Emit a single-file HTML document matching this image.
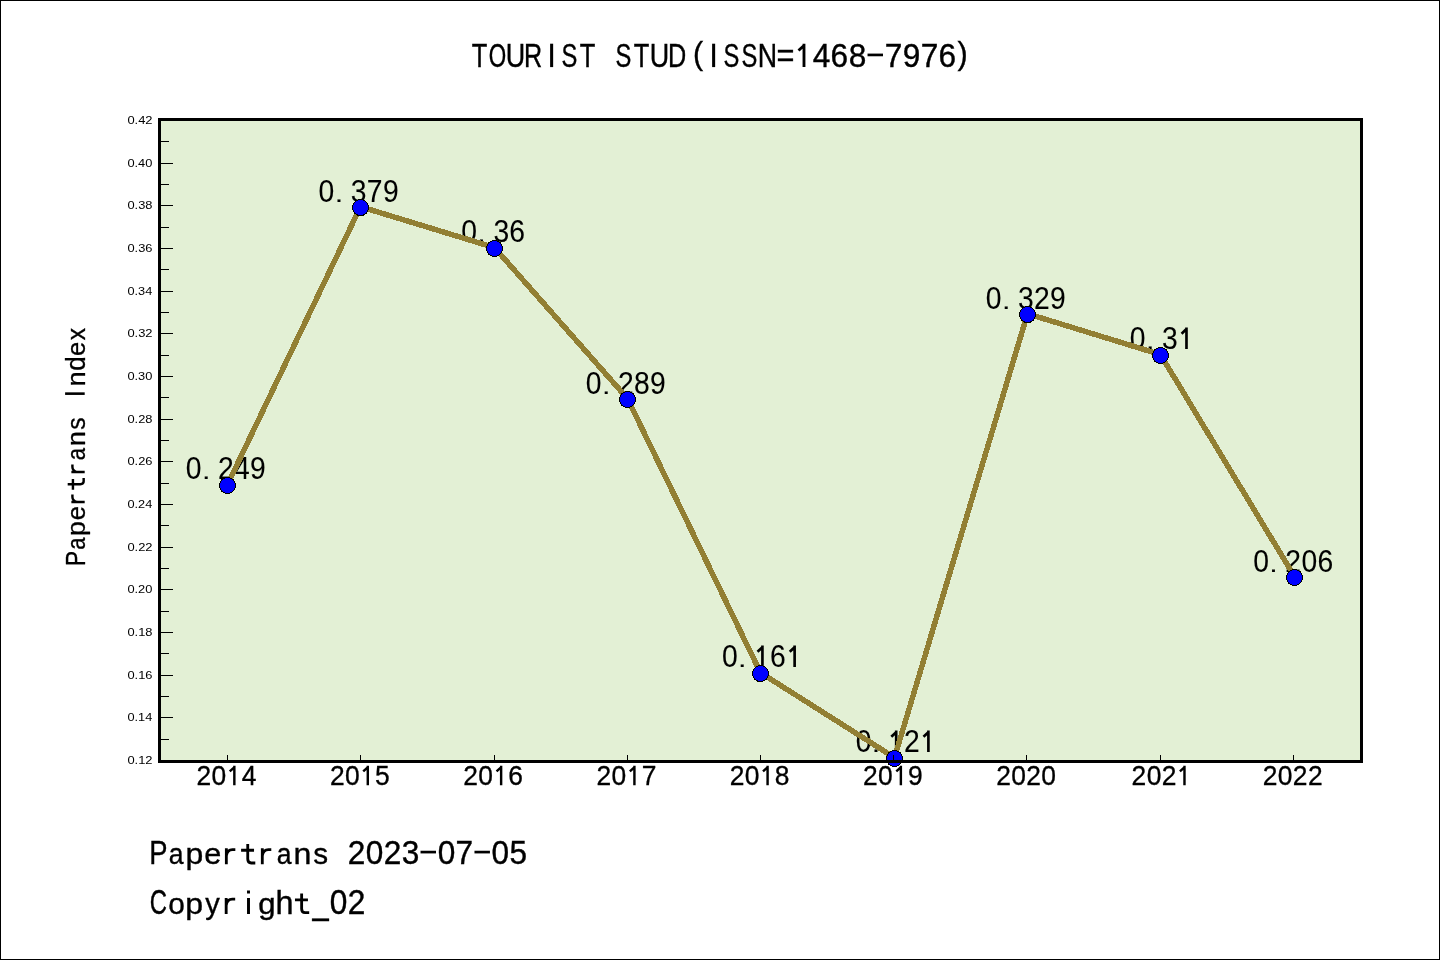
<!DOCTYPE html>
<html><head><meta charset="utf-8"><title>TOURIST STUD</title>
<style>
html,body{margin:0;padding:0;background:#fff;}
body{width:1440px;height:960px;overflow:hidden;}
svg{display:block;will-change:transform;}
text{fill:#000;font-family:"Liberation Sans",sans-serif;font-kerning:none;}
</style></head><body>
<svg width="1440" height="960" viewBox="0 0 1440 960">
<rect x="0" y="0" width="1440" height="960" fill="#fff"/>
<rect x="0.5" y="0.5" width="1439" height="959" fill="none" stroke="#000" stroke-width="1"/>
<rect x="159.5" y="119.5" width="1202.0" height="642.0" fill="#E3F0D5"/>
<text font-size="100" stroke="#000" stroke-width="0.3" transform="matrix(0.28291 0 0 0.31396 185.70 479.20)">0</text>
<text font-size="100" stroke="#000" stroke-width="0.3" transform="matrix(0.30436 0 0 0.21209 201.89 479.20)">.</text>
<text font-size="100" stroke="#000" stroke-width="0.3" transform="matrix(0.28291 0 0 0.31396 217.90 479.20)">2</text>
<text font-size="100" stroke="#000" stroke-width="0.3" transform="matrix(0.28291 0 0 0.31396 234.09 479.20)">4</text>
<text font-size="100" stroke="#000" stroke-width="0.3" transform="matrix(0.28291 0 0 0.31396 250.10 479.20)">9</text>
<text font-size="100" stroke="#000" stroke-width="0.3" transform="matrix(0.28291 0 0 0.31396 318.50 201.60)">0</text>
<text font-size="100" stroke="#000" stroke-width="0.3" transform="matrix(0.30436 0 0 0.21209 334.69 201.60)">.</text>
<text font-size="100" stroke="#000" stroke-width="0.3" transform="matrix(0.28291 0 0 0.31396 350.78 201.60)">3</text>
<text font-size="100" stroke="#000" stroke-width="0.3" transform="matrix(0.28291 0 0 0.31396 366.78 201.60)">7</text>
<text font-size="100" stroke="#000" stroke-width="0.3" transform="matrix(0.28291 0 0 0.31396 382.90 201.60)">9</text>
<text font-size="100" stroke="#000" stroke-width="0.3" transform="matrix(0.28291 0 0 0.31396 461.15 242.20)">0</text>
<text font-size="100" stroke="#000" stroke-width="0.3" transform="matrix(0.30436 0 0 0.21209 477.35 242.20)">.</text>
<text font-size="100" stroke="#000" stroke-width="0.3" transform="matrix(0.28291 0 0 0.31396 493.43 242.20)">3</text>
<text font-size="100" stroke="#000" stroke-width="0.3" transform="matrix(0.28291 0 0 0.31396 509.35 242.20)">6</text>
<text font-size="100" stroke="#000" stroke-width="0.3" transform="matrix(0.28291 0 0 0.31396 585.70 393.70)">0</text>
<text font-size="100" stroke="#000" stroke-width="0.3" transform="matrix(0.30436 0 0 0.21209 601.89 393.70)">.</text>
<text font-size="100" stroke="#000" stroke-width="0.3" transform="matrix(0.28291 0 0 0.31396 617.90 393.70)">2</text>
<text font-size="100" stroke="#000" stroke-width="0.3" transform="matrix(0.28291 0 0 0.31396 634.00 393.70)">8</text>
<text font-size="100" stroke="#000" stroke-width="0.3" transform="matrix(0.28291 0 0 0.31396 650.10 393.70)">9</text>
<text font-size="100" stroke="#000" stroke-width="0.3" transform="matrix(0.28291 0 0 0.31396 721.88 667.10)">0</text>
<text font-size="100" stroke="#000" stroke-width="0.3" transform="matrix(0.30436 0 0 0.21209 738.08 667.10)">.</text>
<path d="M762.43 667.10L762.43 645.50M762.91 646.69L757.52 651.76" fill="none" stroke="#000" stroke-width="2.66"/>
<text font-size="100" stroke="#000" stroke-width="0.3" transform="matrix(0.28291 0 0 0.31396 770.08 667.10)">6</text>
<path d="M794.63 667.10L794.63 645.50M795.11 646.69L789.72 651.76" fill="none" stroke="#000" stroke-width="2.66"/>
<text font-size="100" stroke="#000" stroke-width="0.3" transform="matrix(0.28291 0 0 0.31396 855.65 752.10)">0</text>
<text font-size="100" stroke="#000" stroke-width="0.3" transform="matrix(0.30436 0 0 0.21209 871.85 752.10)">.</text>
<path d="M896.20 752.10L896.20 730.50M896.69 731.69L891.29 736.76" fill="none" stroke="#000" stroke-width="2.66"/>
<text font-size="100" stroke="#000" stroke-width="0.3" transform="matrix(0.28291 0 0 0.31396 903.95 752.10)">2</text>
<path d="M928.40 752.10L928.40 730.50M928.89 731.69L923.49 736.76" fill="none" stroke="#000" stroke-width="2.66"/>
<text font-size="100" stroke="#000" stroke-width="0.3" transform="matrix(0.28291 0 0 0.31396 985.70 308.70)">0</text>
<text font-size="100" stroke="#000" stroke-width="0.3" transform="matrix(0.30436 0 0 0.21209 1001.89 308.70)">.</text>
<text font-size="100" stroke="#000" stroke-width="0.3" transform="matrix(0.28291 0 0 0.31396 1017.98 308.70)">3</text>
<text font-size="100" stroke="#000" stroke-width="0.3" transform="matrix(0.28291 0 0 0.31396 1034.00 308.70)">2</text>
<text font-size="100" stroke="#000" stroke-width="0.3" transform="matrix(0.28291 0 0 0.31396 1050.10 308.70)">9</text>
<text font-size="100" stroke="#000" stroke-width="0.3" transform="matrix(0.28291 0 0 0.31396 1129.83 349.00)">0</text>
<text font-size="100" stroke="#000" stroke-width="0.3" transform="matrix(0.30436 0 0 0.21209 1146.03 349.00)">.</text>
<text font-size="100" stroke="#000" stroke-width="0.3" transform="matrix(0.28291 0 0 0.31396 1162.11 349.00)">3</text>
<path d="M1186.48 349.00L1186.48 327.40M1186.96 328.59L1181.57 333.66" fill="none" stroke="#000" stroke-width="2.66"/>
<text font-size="100" stroke="#000" stroke-width="0.3" transform="matrix(0.28291 0 0 0.31396 1253.15 571.50)">0</text>
<text font-size="100" stroke="#000" stroke-width="0.3" transform="matrix(0.30436 0 0 0.21209 1269.35 571.50)">.</text>
<text font-size="100" stroke="#000" stroke-width="0.3" transform="matrix(0.28291 0 0 0.31396 1285.35 571.50)">2</text>
<text font-size="100" stroke="#000" stroke-width="0.3" transform="matrix(0.28291 0 0 0.31396 1301.45 571.50)">0</text>
<text font-size="100" stroke="#000" stroke-width="0.3" transform="matrix(0.28291 0 0 0.31396 1317.45 571.50)">6</text>
<polyline points="227.50,484.60 360.50,206.70 494.50,247.60 627.50,398.60 760.50,672.70 894.50,757.60 1027.50,313.70 1160.50,354.60 1294.50,576.60" fill="none" stroke="#927F34" stroke-width="5.5" stroke-linejoin="round" stroke-linecap="square" shape-rendering="crispEdges"/>
<circle cx="227.50" cy="485.50" r="8" fill="#0000FF" stroke="#000" stroke-width="1" shape-rendering="crispEdges"/>
<circle cx="360.50" cy="207.60" r="8" fill="#0000FF" stroke="#000" stroke-width="1" shape-rendering="crispEdges"/>
<circle cx="494.50" cy="248.50" r="8" fill="#0000FF" stroke="#000" stroke-width="1" shape-rendering="crispEdges"/>
<circle cx="627.50" cy="399.50" r="8" fill="#0000FF" stroke="#000" stroke-width="1" shape-rendering="crispEdges"/>
<circle cx="760.50" cy="673.60" r="8" fill="#0000FF" stroke="#000" stroke-width="1" shape-rendering="crispEdges"/>
<circle cx="894.50" cy="758.50" r="8" fill="#0000FF" stroke="#000" stroke-width="1" shape-rendering="crispEdges"/>
<circle cx="1027.50" cy="314.60" r="8" fill="#0000FF" stroke="#000" stroke-width="1" shape-rendering="crispEdges"/>
<circle cx="1160.50" cy="355.50" r="8" fill="#0000FF" stroke="#000" stroke-width="1" shape-rendering="crispEdges"/>
<circle cx="1294.50" cy="577.50" r="8" fill="#0000FF" stroke="#000" stroke-width="1" shape-rendering="crispEdges"/>
<rect x="161" y="739" width="8" height="1" fill="#000"/>
<rect x="161" y="717" width="12" height="1" fill="#000"/>
<rect x="161" y="696" width="8" height="1" fill="#000"/>
<rect x="161" y="675" width="12" height="1" fill="#000"/>
<rect x="161" y="653" width="8" height="1" fill="#000"/>
<rect x="161" y="632" width="12" height="1" fill="#000"/>
<rect x="161" y="611" width="8" height="1" fill="#000"/>
<rect x="161" y="589" width="12" height="1" fill="#000"/>
<rect x="161" y="568" width="8" height="1" fill="#000"/>
<rect x="161" y="547" width="12" height="1" fill="#000"/>
<rect x="161" y="525" width="8" height="1" fill="#000"/>
<rect x="161" y="504" width="12" height="1" fill="#000"/>
<rect x="161" y="483" width="8" height="1" fill="#000"/>
<rect x="161" y="461" width="12" height="1" fill="#000"/>
<rect x="161" y="440" width="8" height="1" fill="#000"/>
<rect x="161" y="419" width="12" height="1" fill="#000"/>
<rect x="161" y="397" width="8" height="1" fill="#000"/>
<rect x="161" y="376" width="12" height="1" fill="#000"/>
<rect x="161" y="355" width="8" height="1" fill="#000"/>
<rect x="161" y="333" width="12" height="1" fill="#000"/>
<rect x="161" y="312" width="8" height="1" fill="#000"/>
<rect x="161" y="291" width="12" height="1" fill="#000"/>
<rect x="161" y="269" width="8" height="1" fill="#000"/>
<rect x="161" y="248" width="12" height="1" fill="#000"/>
<rect x="161" y="227" width="8" height="1" fill="#000"/>
<rect x="161" y="205" width="12" height="1" fill="#000"/>
<rect x="161" y="184" width="8" height="1" fill="#000"/>
<rect x="161" y="163" width="12" height="1" fill="#000"/>
<rect x="161" y="141" width="8" height="1" fill="#000"/>
<rect x="227" y="755" width="1" height="5" fill="#000"/>
<rect x="360" y="755" width="1" height="5" fill="#000"/>
<rect x="494" y="755" width="1" height="5" fill="#000"/>
<rect x="627" y="755" width="1" height="5" fill="#000"/>
<rect x="760" y="755" width="1" height="5" fill="#000"/>
<rect x="893" y="755" width="1" height="5" fill="#000"/>
<rect x="1026" y="755" width="1" height="5" fill="#000"/>
<rect x="1160" y="755" width="1" height="5" fill="#000"/>
<rect x="1293" y="755" width="1" height="5" fill="#000"/>
<rect x="159.5" y="119.5" width="1202.0" height="642.0" fill="none" stroke="#000" stroke-width="3"/>
<text font-size="50" transform="matrix(0.25849 0 0 0.23547 127.40 124.05)">0.42</text>
<text font-size="50" transform="matrix(0.25694 0 0 0.23547 127.40 166.71)">0.40</text>
<text font-size="50" transform="matrix(0.25754 0 0 0.23547 127.40 209.36)">0.38</text>
<text font-size="50" transform="matrix(0.25761 0 0 0.23547 127.40 252.02)">0.36</text>
<text font-size="50" transform="matrix(0.25560 0 0 0.23547 127.40 294.68)">0.34</text>
<text font-size="50" transform="matrix(0.25849 0 0 0.23547 127.40 337.33)">0.32</text>
<text font-size="50" transform="matrix(0.25694 0 0 0.23547 127.40 379.99)">0.30</text>
<text font-size="50" transform="matrix(0.25754 0 0 0.23547 127.40 422.65)">0.28</text>
<text font-size="50" transform="matrix(0.25761 0 0 0.23547 127.40 465.30)">0.26</text>
<text font-size="50" transform="matrix(0.25560 0 0 0.23547 127.40 507.96)">0.24</text>
<text font-size="50" transform="matrix(0.25849 0 0 0.23547 127.40 550.62)">0.22</text>
<text font-size="50" transform="matrix(0.25694 0 0 0.23547 127.40 593.27)">0.20</text>
<text font-size="50" transform="matrix(0.25754 0 0 0.23547 127.40 635.93)">0.18</text>
<text font-size="50" transform="matrix(0.25761 0 0 0.23547 127.40 678.59)">0.16</text>
<text font-size="50" transform="matrix(0.25560 0 0 0.23547 127.40 721.24)">0.14</text>
<text font-size="50" transform="matrix(0.25849 0 0 0.23547 127.40 763.90)">0.12</text>
<text font-size="100" stroke="#000" stroke-width="1.2" transform="matrix(0.26411 0 0 0.28198 196.49 785.20)">2</text>
<text font-size="100" stroke="#000" stroke-width="1.2" transform="matrix(0.26411 0 0 0.28198 211.52 785.20)">0</text>
<path d="M234.35 785.20L234.35 765.80M234.80 766.87L229.76 771.43" fill="none" stroke="#000" stroke-width="2.43"/>
<text font-size="100" stroke="#000" stroke-width="1.2" transform="matrix(0.26411 0 0 0.28198 241.67 785.20)">4</text>
<text font-size="100" stroke="#000" stroke-width="1.2" transform="matrix(0.26411 0 0 0.28198 329.94 785.20)">2</text>
<text font-size="100" stroke="#000" stroke-width="1.2" transform="matrix(0.26411 0 0 0.28198 344.97 785.20)">0</text>
<path d="M367.79 785.20L367.79 765.80M368.24 766.87L363.21 771.43" fill="none" stroke="#000" stroke-width="2.43"/>
<text font-size="100" stroke="#000" stroke-width="1.2" transform="matrix(0.26411 0 0 0.28198 375.05 785.20)">5</text>
<text font-size="100" stroke="#000" stroke-width="1.2" transform="matrix(0.26411 0 0 0.28198 463.27 785.20)">2</text>
<text font-size="100" stroke="#000" stroke-width="1.2" transform="matrix(0.26411 0 0 0.28198 478.30 785.20)">0</text>
<path d="M501.13 785.20L501.13 765.80M501.58 766.87L496.54 771.43" fill="none" stroke="#000" stroke-width="2.43"/>
<text font-size="100" stroke="#000" stroke-width="1.2" transform="matrix(0.26411 0 0 0.28198 508.27 785.20)">6</text>
<text font-size="100" stroke="#000" stroke-width="1.2" transform="matrix(0.26411 0 0 0.28198 596.57 785.20)">2</text>
<text font-size="100" stroke="#000" stroke-width="1.2" transform="matrix(0.26411 0 0 0.28198 611.60 785.20)">0</text>
<path d="M634.42 785.20L634.42 765.80M634.87 766.87L629.84 771.43" fill="none" stroke="#000" stroke-width="2.43"/>
<text font-size="100" stroke="#000" stroke-width="1.2" transform="matrix(0.26411 0 0 0.28198 641.64 785.20)">7</text>
<text font-size="100" stroke="#000" stroke-width="1.2" transform="matrix(0.26411 0 0 0.28198 729.72 785.20)">2</text>
<text font-size="100" stroke="#000" stroke-width="1.2" transform="matrix(0.26411 0 0 0.28198 744.75 785.20)">0</text>
<path d="M767.58 785.20L767.58 765.80M768.03 766.87L762.99 771.43" fill="none" stroke="#000" stroke-width="2.43"/>
<text font-size="100" stroke="#000" stroke-width="1.2" transform="matrix(0.26411 0 0 0.28198 774.81 785.20)">8</text>
<text font-size="100" stroke="#000" stroke-width="1.2" transform="matrix(0.26411 0 0 0.28198 863.02 785.20)">2</text>
<text font-size="100" stroke="#000" stroke-width="1.2" transform="matrix(0.26411 0 0 0.28198 878.05 785.20)">0</text>
<path d="M900.87 785.20L900.87 765.80M901.32 766.87L896.29 771.43" fill="none" stroke="#000" stroke-width="2.43"/>
<text font-size="100" stroke="#000" stroke-width="1.2" transform="matrix(0.26411 0 0 0.28198 908.12 785.20)">9</text>
<text font-size="100" stroke="#000" stroke-width="1.2" transform="matrix(0.26411 0 0 0.28198 996.16 785.20)">2</text>
<text font-size="100" stroke="#000" stroke-width="1.2" transform="matrix(0.26411 0 0 0.28198 1011.19 785.20)">0</text>
<text font-size="100" stroke="#000" stroke-width="1.2" transform="matrix(0.26411 0 0 0.28198 1026.22 785.20)">2</text>
<text font-size="100" stroke="#000" stroke-width="1.2" transform="matrix(0.26411 0 0 0.28198 1041.25 785.20)">0</text>
<text font-size="100" stroke="#000" stroke-width="1.2" transform="matrix(0.26411 0 0 0.28198 1131.60 785.20)">2</text>
<text font-size="100" stroke="#000" stroke-width="1.2" transform="matrix(0.26411 0 0 0.28198 1146.63 785.20)">0</text>
<text font-size="100" stroke="#000" stroke-width="1.2" transform="matrix(0.26411 0 0 0.28198 1161.66 785.20)">2</text>
<path d="M1184.48 785.20L1184.48 765.80M1184.93 766.87L1179.90 771.43" fill="none" stroke="#000" stroke-width="2.43"/>
<text font-size="100" stroke="#000" stroke-width="1.2" transform="matrix(0.26411 0 0 0.28198 1262.81 785.20)">2</text>
<text font-size="100" stroke="#000" stroke-width="1.2" transform="matrix(0.26411 0 0 0.28198 1277.84 785.20)">0</text>
<text font-size="100" stroke="#000" stroke-width="1.2" transform="matrix(0.26411 0 0 0.28198 1292.87 785.20)">2</text>
<text font-size="100" stroke="#000" stroke-width="1.2" transform="matrix(0.26411 0 0 0.28198 1307.90 785.20)">2</text>
<text font-size="100" stroke="#000" stroke-width="1.2" transform="matrix(0.25467 0 0 0.34012 471.68 67.10)">T</text>
<text font-size="100" stroke="#000" stroke-width="1.2" transform="matrix(0.22414 0 0 0.34012 488.74 67.10)">O</text>
<text font-size="100" stroke="#000" stroke-width="1.2" transform="matrix(0.26943 0 0 0.34012 505.72 67.10)">U</text>
<text font-size="100" stroke="#000" stroke-width="1.2" transform="matrix(0.25162 0 0 0.34012 523.92 67.10)">R</text>
<path d="M551.63 67.10L551.63 43.70" fill="none" stroke="#000" stroke-width="3.04"/>
<text font-size="100" stroke="#000" stroke-width="1.2" transform="matrix(0.23763 0 0 0.34012 561.53 67.10)">S</text>
<text font-size="100" stroke="#000" stroke-width="1.2" transform="matrix(0.25467 0 0 0.34012 579.68 67.10)">T</text>
<text font-size="100" stroke="#000" stroke-width="1.2" transform="matrix(0.23763 0 0 0.34012 615.53 67.10)">S</text>
<text font-size="100" stroke="#000" stroke-width="1.2" transform="matrix(0.25467 0 0 0.34012 633.68 67.10)">T</text>
<text font-size="100" stroke="#000" stroke-width="1.2" transform="matrix(0.26943 0 0 0.34012 649.72 67.10)">U</text>
<text font-size="100" stroke="#000" stroke-width="1.2" transform="matrix(0.25224 0 0 0.34012 667.91 67.10)">D</text>
<text font-size="100" stroke="#000" stroke-width="1.2" transform="matrix(0.30550 0 0 0.30894 693.11 63.82)">(</text>
<path d="M713.63 67.10L713.63 43.70" fill="none" stroke="#000" stroke-width="3.04"/>
<text font-size="100" stroke="#000" stroke-width="1.2" transform="matrix(0.23763 0 0 0.34012 723.53 67.10)">S</text>
<text font-size="100" stroke="#000" stroke-width="1.2" transform="matrix(0.23763 0 0 0.34012 741.53 67.10)">S</text>
<text font-size="100" stroke="#000" stroke-width="1.2" transform="matrix(0.26746 0 0 0.34012 757.79 67.10)">N</text>
<text font-size="100" stroke="#000" stroke-width="1.2" transform="matrix(0.30751 0 0 0.34012 776.48 67.10)">=</text>
<path d="M803.99 67.10L803.99 43.70M804.53 44.99L798.50 50.49" fill="none" stroke="#000" stroke-width="2.85"/>
<text font-size="100" stroke="#000" stroke-width="1.2" transform="matrix(0.31630 0 0 0.34012 812.75 67.10)">4</text>
<text font-size="100" stroke="#000" stroke-width="1.2" transform="matrix(0.31630 0 0 0.34012 830.55 67.10)">6</text>
<text font-size="100" stroke="#000" stroke-width="1.2" transform="matrix(0.31630 0 0 0.34012 848.65 67.10)">8</text>
<path d="M867.53 54.93L883.01 54.93" fill="none" stroke="#000" stroke-width="2.69"/>
<text font-size="100" stroke="#000" stroke-width="1.2" transform="matrix(0.31630 0 0 0.34012 884.64 67.10)">7</text>
<text font-size="100" stroke="#000" stroke-width="1.2" transform="matrix(0.31630 0 0 0.34012 902.66 67.10)">9</text>
<text font-size="100" stroke="#000" stroke-width="1.2" transform="matrix(0.31630 0 0 0.34012 920.64 67.10)">7</text>
<text font-size="100" stroke="#000" stroke-width="1.2" transform="matrix(0.31630 0 0 0.34012 938.55 67.10)">6</text>
<text font-size="100" stroke="#000" stroke-width="1.2" transform="matrix(0.30550 0 0 0.30894 957.62 63.82)">)</text>
<text font-size="100" stroke="#000" stroke-width="1.2" transform="matrix(0 -0.22737 0.28489 0 84.70 566.05)">P</text>
<text font-size="100" stroke="#000" stroke-width="1.2" transform="matrix(0 -0.22104 0.25227 0 84.70 549.81)">a</text>
<text font-size="100" stroke="#000" stroke-width="1.2" transform="matrix(0 -0.26577 0.25227 0 84.70 535.94)">p</text>
<text font-size="100" stroke="#000" stroke-width="1.2" transform="matrix(0 -0.25471 0.25227 0 84.70 520.37)">e</text>
<path d="M84.70 501.96L71.37 501.96M77.64 501.96C73.72 501.36 72.41 499.57 72.41 496.88L72.41 494.49" fill="none" stroke="#000" stroke-width="2.43"/>
<path d="M67.69 484.18L80.39 484.18Q83.66 484.18 83.66 481.34L83.66 477.90M72.94 489.70L72.94 478.95" fill="none" stroke="#000" stroke-width="2.43"/>
<path d="M84.70 472.08L71.37 472.08M77.64 472.08C73.72 471.48 72.41 469.69 72.41 467.00L72.41 464.61" fill="none" stroke="#000" stroke-width="2.43"/>
<text font-size="100" stroke="#000" stroke-width="1.2" transform="matrix(0 -0.22104 0.25227 0 84.70 460.17)">a</text>
<text font-size="100" stroke="#000" stroke-width="1.2" transform="matrix(0 -0.26729 0.25227 0 84.70 446.06)">n</text>
<text font-size="100" stroke="#000" stroke-width="1.2" transform="matrix(0 -0.24670 0.25227 0 84.70 429.74)">s</text>
<path d="M84.70 393.64L65.10 393.64" fill="none" stroke="#000" stroke-width="2.60"/>
<text font-size="100" stroke="#000" stroke-width="1.2" transform="matrix(0 -0.26729 0.25227 0 84.70 386.30)">n</text>
<text font-size="100" stroke="#000" stroke-width="1.2" transform="matrix(0 -0.25913 0.27049 0 84.70 370.82)">d</text>
<text font-size="100" stroke="#000" stroke-width="1.2" transform="matrix(0 -0.25471 0.25227 0 84.70 356.03)">e</text>
<text font-size="100" stroke="#000" stroke-width="1.2" transform="matrix(0 -0.24378 0.25227 0 84.70 340.13)">x</text>
<text font-size="100" stroke="#000" stroke-width="1.2" transform="matrix(0.27364 0 0 0.33867 149.21 864.20)">P</text>
<text font-size="100" stroke="#000" stroke-width="1.2" transform="matrix(0.26602 0 0 0.29989 168.76 864.20)">a</text>
<text font-size="100" stroke="#000" stroke-width="1.2" transform="matrix(0.31985 0 0 0.29989 185.45 864.20)">p</text>
<text font-size="100" stroke="#000" stroke-width="1.2" transform="matrix(0.30654 0 0 0.29989 204.19 864.20)">e</text>
<path d="M226.34 864.20L226.34 848.36M226.34 855.81C227.06 851.15 229.22 849.59 232.46 849.59L235.33 849.59" fill="none" stroke="#000" stroke-width="2.82"/>
<path d="M247.74 843.98L247.74 859.07Q247.74 862.97 251.16 862.97L255.29 862.97M241.09 850.22L254.03 850.22" fill="none" stroke="#000" stroke-width="2.82"/>
<path d="M262.30 864.20L262.30 848.36M262.30 855.81C263.02 851.15 265.18 849.59 268.42 849.59L271.29 849.59" fill="none" stroke="#000" stroke-width="2.82"/>
<text font-size="100" stroke="#000" stroke-width="1.2" transform="matrix(0.26602 0 0 0.29989 276.64 864.20)">a</text>
<text font-size="100" stroke="#000" stroke-width="1.2" transform="matrix(0.32167 0 0 0.29989 293.61 864.20)">n</text>
<text font-size="100" stroke="#000" stroke-width="1.2" transform="matrix(0.29689 0 0 0.29989 313.26 864.20)">s</text>
<text font-size="100" stroke="#000" stroke-width="1.2" transform="matrix(0.31595 0 0 0.33867 347.73 864.20)">2</text>
<text font-size="100" stroke="#000" stroke-width="1.2" transform="matrix(0.31595 0 0 0.33867 365.71 864.20)">0</text>
<text font-size="100" stroke="#000" stroke-width="1.2" transform="matrix(0.31595 0 0 0.33867 383.69 864.20)">2</text>
<text font-size="100" stroke="#000" stroke-width="1.2" transform="matrix(0.31595 0 0 0.33867 401.77 864.20)">3</text>
<path d="M420.53 852.08L435.99 852.08" fill="none" stroke="#000" stroke-width="2.68"/>
<text font-size="100" stroke="#000" stroke-width="1.2" transform="matrix(0.31595 0 0 0.33867 437.63 864.20)">0</text>
<text font-size="100" stroke="#000" stroke-width="1.2" transform="matrix(0.31595 0 0 0.33867 455.60 864.20)">7</text>
<path d="M474.47 852.08L489.93 852.08" fill="none" stroke="#000" stroke-width="2.68"/>
<text font-size="100" stroke="#000" stroke-width="1.2" transform="matrix(0.31595 0 0 0.33867 491.57 864.20)">0</text>
<text font-size="100" stroke="#000" stroke-width="1.2" transform="matrix(0.31595 0 0 0.33867 509.59 864.20)">5</text>
<text font-size="100" stroke="#000" stroke-width="1.2" transform="matrix(0.23888 0 0 0.34158 149.68 913.90)">C</text>
<text font-size="100" stroke="#000" stroke-width="1.2" transform="matrix(0.29752 0 0 0.30247 168.19 913.90)">o</text>
<text font-size="100" stroke="#000" stroke-width="1.2" transform="matrix(0.32039 0 0 0.30247 185.21 913.90)">p</text>
<text font-size="100" stroke="#000" stroke-width="1.2" transform="matrix(0.29072 0 0 0.30247 205.21 913.90)">y</text>
<path d="M226.17 913.90L226.17 897.92M226.17 905.44C226.89 900.74 229.05 899.17 232.30 899.17L235.18 899.17" fill="none" stroke="#000" stroke-width="2.84"/>
<path d="M248.50 913.90L248.50 897.92M248.50 893.45L248.50 890.40" fill="none" stroke="#000" stroke-width="2.94"/>
<text font-size="100" stroke="#000" stroke-width="1.2" transform="matrix(0.31238 0 0 0.30247 258.18 913.90)">g</text>
<text font-size="100" stroke="#000" stroke-width="1.2" transform="matrix(0.32445 0 0 0.32431 275.43 913.90)">h</text>
<path d="M301.63 893.50L301.63 908.73Q301.63 912.65 305.06 912.65L309.20 912.65M294.97 899.80L307.94 899.80" fill="none" stroke="#000" stroke-width="2.84"/>
<text font-size="100" stroke="#000" stroke-width="1.2" transform="matrix(0.29062 0 0 0.34158 312.52 913.90)">_</text>
<text font-size="100" stroke="#000" stroke-width="1.2" transform="matrix(0.31648 0 0 0.34158 329.75 913.90)">0</text>
<text font-size="100" stroke="#000" stroke-width="1.2" transform="matrix(0.31648 0 0 0.34158 347.76 913.90)">2</text>
</svg>
</body></html>
